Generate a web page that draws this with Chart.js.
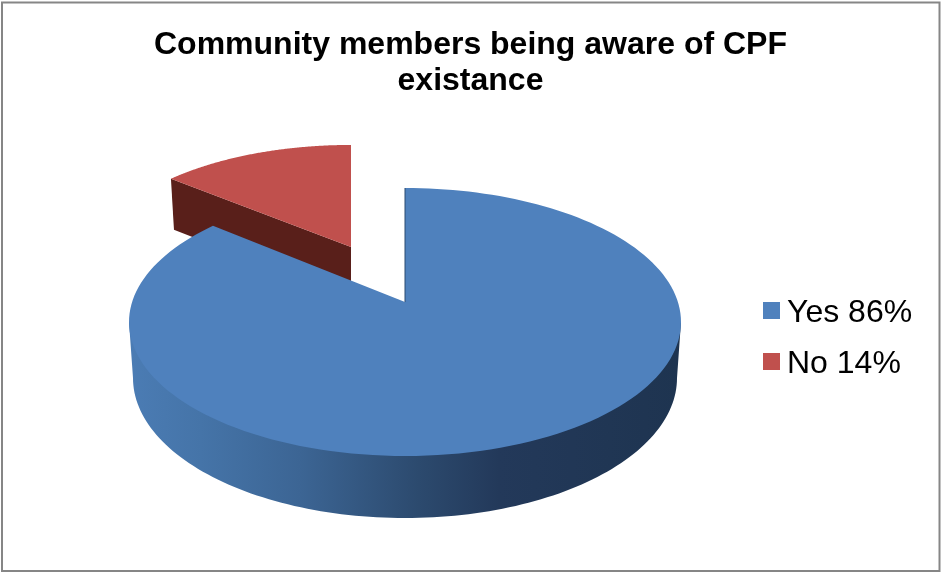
<!DOCTYPE html>
<html>
<head>
<meta charset="utf-8">
<style>
  html, body { margin: 0; padding: 0; background: #fff; }
  canvas { display: block; }
</style>
<script src="https://cdn.jsdelivr.net/npm/chart.js@4"></script>
</head>
<body>
<canvas id="awareness" width="941" height="572"></canvas>
<script>
const titleLines = ["Community members being aware of CPF", "existance"];
const categories = ["Yes 86%", "No 14%"];
const shares = [86, 14];
const sliceColors = ["#4F81BD", "#C0504D"];

// pie tilt: top face ellipse, its lower copy, and how far the hub sits above the ellipse centre
const disc = { cx: 405, cy: 322, rx: 276, ry: 134, hub: -0.149, lowerRx: 272, lowerCy: 378, lowerRy: 140 };
// the pulled-out slice is moved and shrunk on screen around its hub
const pulled = { hubX: 351, hubY: 247, sx: 0.9375, sy: 0.895 };
const key = { x: 763, y: 302, box: 17, rowGap: 51, textX: 787, baseline: 19.5, font: "32px 'Liberation Sans'" };

// unit circle angle -> point on the tilted top face
function project(angle) {
  const u = Math.cos(angle);
  const v = Math.sin(angle);
  const w = 1 + disc.hub * v;
  return {
    x: disc.cx + disc.rx * (u * Math.sqrt(1 - disc.hub * disc.hub)) / w,
    y: disc.cy + disc.ry * (v + disc.hub) / w,
  };
}

function slicePoints(start, end, mapPoint) {
  const hub = { x: disc.cx, y: disc.cy + disc.ry * disc.hub };
  const pts = [];
  for (let i = 0; i <= 160; i++) {
    pts.push(mapPoint(project(start + ((end - start) * i) / 160), hub));
  }
  return { hub: mapPoint(hub, hub), rim: pts };
}

function tracePolygon(ctx, pts) {
  ctx.beginPath();
  pts.forEach((p, i) => (i ? ctx.lineTo(p.x, p.y) : ctx.moveTo(p.x, p.y)));
  ctx.closePath();
}

function drawPulledSlice(ctx, arc) {
  const shape = slicePoints(arc.startAngle, arc.endAngle, (p, hub) => ({
    x: pulled.hubX + (p.x - hub.x) * pulled.sx,
    y: pulled.hubY + (p.y - hub.y) * pulled.sy,
  }));
  const tip = shape.rim[0];

  // cut face, its lower part ends up hidden behind the big slice
  tracePolygon(ctx, [
    tip,
    shape.hub,
    { x: shape.hub.x, y: shape.hub.y + 52 },
    { x: tip.x + 3, y: tip.y + 51 },
  ]);
  ctx.fillStyle = "#591F1A";
  ctx.fill();

  tracePolygon(ctx, [shape.hub, ...shape.rim]);
  ctx.fillStyle = arc.options.backgroundColor;
  ctx.fill();
}

function drawMainSlice(ctx, arc) {
  // side wall
  const wall = [];
  for (let i = 0; i <= 120; i++) {
    const a = Math.PI - (Math.PI * i) / 120;
    wall.push({
      x: disc.cx + disc.lowerRx * Math.cos(a),
      y: disc.lowerCy + disc.lowerRy * Math.sin(a),
    });
  }
  tracePolygon(ctx, [
    { x: disc.cx - disc.rx, y: disc.cy },
    ...wall,
    { x: disc.cx + disc.rx, y: disc.cy },
  ]);
  const side = ctx.createLinearGradient(disc.cx - disc.rx, 0, disc.cx + disc.rx, 0);
  side.addColorStop(0, "#4B7CB4");
  side.addColorStop(0.13, "#4574A8");
  side.addColorStop(0.31, "#3C6594");
  side.addColorStop(0.525, "#2C4A6E");
  side.addColorStop(0.67, "#23395A");
  side.addColorStop(1, "#1E3450");
  ctx.fillStyle = side;
  ctx.fill();

  // top face
  const shape = slicePoints(arc.startAngle, arc.endAngle, (p) => p);
  tracePolygon(ctx, [shape.hub, ...shape.rim]);
  ctx.fillStyle = arc.options.backgroundColor;
  ctx.fill();

  // thin dark edge on the cut by the gap
  ctx.beginPath();
  ctx.moveTo(shape.rim[0].x, shape.rim[0].y);
  ctx.lineTo(shape.hub.x, shape.hub.y);
  ctx.strokeStyle = "#2B4A70";
  ctx.lineWidth = 1;
  ctx.stroke();
}

const tiltedPie = {
  id: "tiltedPie",
  beforeDatasetsDraw(chart) {
    const ctx = chart.ctx;
    const arcs = chart.getDatasetMeta(0).data;
    ctx.save();
    drawPulledSlice(ctx, arcs[1]);
    drawMainSlice(ctx, arcs[0]);
    ctx.restore();
    return false;
  },
  afterDraw(chart) {
    const ctx = chart.ctx;
    ctx.save();

    // key on the right, the built-in legend can't set the swatch-to-text gap
    ctx.font = key.font;
    ctx.fillStyle = "#000";
    ctx.textBaseline = "alphabetic";
    categories.forEach((label, i) => {
      const top = key.y + i * key.rowGap;
      ctx.fillStyle = sliceColors[i];
      ctx.fillRect(key.x, top, key.box, key.box);
      ctx.fillStyle = "#000";
      ctx.fillText(label, key.textX, top + key.baseline);
    });

    ctx.strokeStyle = "#868686";
    ctx.lineWidth = 2;
    ctx.strokeRect(2, 2.5, 937.5, 568.5);
    ctx.restore();
  },
};

new Chart(document.getElementById("awareness"), {
  type: "pie",
  plugins: [tiltedPie],
  data: {
    labels: categories,
    datasets: [{ data: shares, backgroundColor: sliceColors, borderWidth: 0 }],
  },
  options: {
    responsive: false,
    animation: false,
    layout: { padding: { top: 27 } },
    plugins: {
      tooltip: { enabled: false },
      legend: { display: false },
      title: {
        display: true,
        text: titleLines,
        color: "#000",
        font: { family: "'Liberation Sans'", size: 32, weight: "bold", lineHeight: 1.125 },
        padding: { top: 0, bottom: 8 },
      },
    },
  },
});
</script>
</body>
</html>
